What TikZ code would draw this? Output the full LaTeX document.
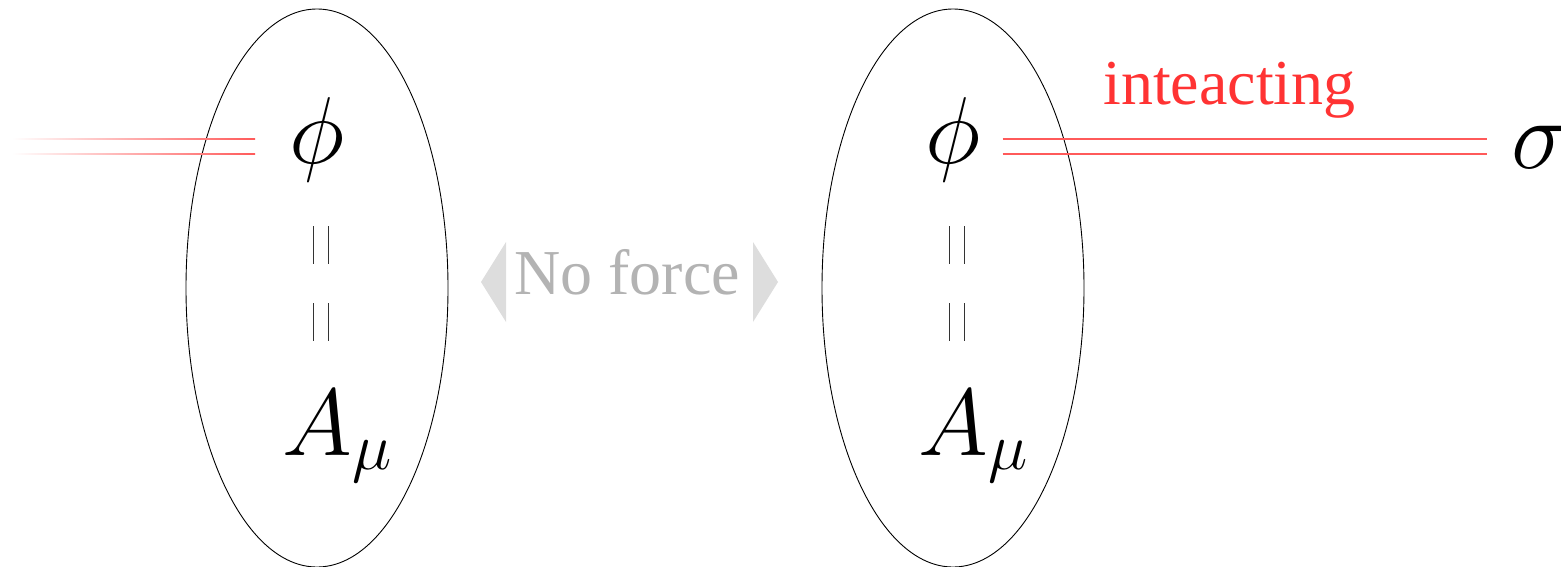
\RequirePackage{fix-cm}
\documentclass[tikz,border=0pt]{standalone}
\usepackage{fontspec}
\newfontfamily\labelfont{Liberation Serif}
\usepackage{tikz}
\usetikzlibrary{shapes.geometric,positioning,calc}
\definecolor{linered}{HTML}{FF5a5a}
\definecolor{labelred}{HTML}{FF3333}
\definecolor{arrowgray}{HTML}{DDDDDD}
\definecolor{textgray}{HTML}{B3B3B3}

\begin{document}
\begin{tikzpicture}[x=1pt, y=-1pt,
  bag/.style={draw, ellipse, line width=0.9pt, minimum width=262pt, minimum height=558pt, inner sep=0pt},
  field/.style={inner sep=0pt, font=\fontsize{95}{95}\selectfont},
  bar/.style={line width=1pt, black!80}]
  \useasboundingbox (0,0) rectangle (1561,567);

  % LEFT BAG: phi = A_mu, no partner
  \node[bag] (bagL) at (317,288) {};
  \node[field] (phiL) at (317,140) {$\phi$};
  \draw[bar] (313,226) -- (313,264); \draw[bar] (328,226) -- (328,264);
  \draw[bar] (313,303) -- (313,341); \draw[bar] (328,303) -- (328,341);
  \node[field, anchor=base] (amuL) at (337,455) {$A_\mu$};
  % fading lines coming in from the left
  \coordinate (lfree) at (12,139);
  \coordinate (lend) at (255,139);
  \shade[left color=white, right color=linered] ($(lfree)+(0,-0.6)$) rectangle ($(lend)+(0,0.6)$);
  \shade[left color=white, right color=linered] ($(lfree)+(0,14.4)$) rectangle ($(lend)+(0,15.6)$);

  % No force
  \fill[arrowgray] (506,242) -- (481,282) -- (506,322) -- cycle;
  \fill[arrowgray] (753,242) -- (778,282) -- (753,322) -- cycle;
  \node[inner sep=0pt, anchor=base, text=textgray, font=\labelfont\fontsize{64}{64}\selectfont] (noforce) at (627,294) {No force};

  % RIGHT BAG: phi = A_mu, coupled to sigma
  \node[bag] (bagR) at (953,288) {};
  \node[field] (phiR) at (953,140) {$\phi$};
  \draw[bar] (949,226) -- (949,264); \draw[bar] (964,226) -- (964,264);
  \draw[bar] (949,303) -- (949,341); \draw[bar] (964,303) -- (964,341);
  \node[field, anchor=base] (amuR) at (973,455) {$A_\mu$};
  \node[inner sep=0pt, anchor=base west, font=\fontsize{98}{98}\selectfont] (sigma) at (1511,168) {$\sigma$};
  \coordinate (rtop) at ($(phiR.east)+(22,-1)$);
  \coordinate (rbot) at ($(phiR.east)+(22,14)$);
  \coordinate (sigL) at ($(sigma.west)+(-24,0)$);
  \draw[linered, line width=1.2pt] (rtop) -- (rtop -| sigL);
  \draw[linered, line width=1.2pt] (rbot) -- (rbot -| sigL);
  \node[inner sep=0pt, anchor=base west, text=labelred, font=\labelfont\fontsize{64}{64}\selectfont] (inter) at (1103,105) {inteacting};
\end{tikzpicture}
\end{document}
